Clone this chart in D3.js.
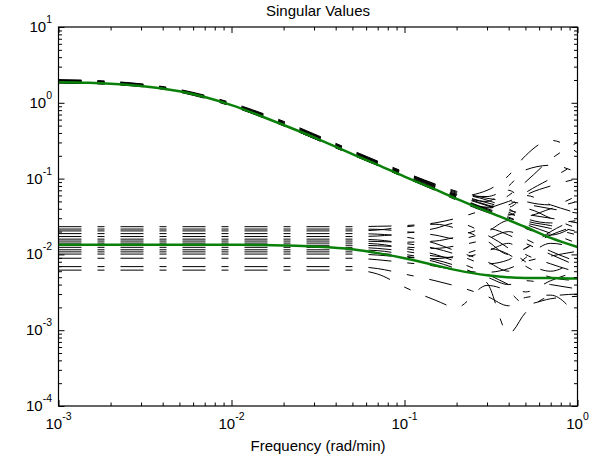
<!DOCTYPE html>
<html>
<head>
<meta charset="utf-8">
<script src="https://cdn.jsdelivr.net/npm/d3@7"></script>
<style>
  body { margin: 0; background: #fff; }
  svg { font-family: "Liberation Sans", Arial, Helvetica, sans-serif; }
</style>
</head>
<body>
<svg id="chart" width="606" height="458"></svg>
<script>
// nominal singular values (green)
const freqNom = [0.001, 0.0015, 0.002, 0.003, 0.005, 0.007, 0.01, 0.015, 0.02, 0.03,
                 0.05, 0.07, 0.1, 0.15, 0.2, 0.3, 0.5, 0.7, 1];
const nomUpper = [1.87, 1.84, 1.79, 1.67, 1.42, 1.19, 0.93, 0.66, 0.51, 0.35,
                  0.21, 0.152, 0.106, 0.072, 0.054, 0.037, 0.023, 0.0165, 0.0125];
const nomLower = [0.0134, 0.0134, 0.0134, 0.0134, 0.0134, 0.0134, 0.0134, 0.0133, 0.0131, 0.0127,
                  0.0117, 0.0104, 0.0089, 0.0072, 0.0062, 0.0053, 0.0049, 0.0049, 0.0048];

// sampled (uncertain) systems, black dashed
const freqSamp = [0.001, 0.002, 0.005, 0.01, 0.02, 0.05, 0.07, 0.1, 0.15, 0.2, 0.3, 0.4, 0.5, 0.7, 1];
const sampUpper = [
  [1.95, 1.85, 1.45, 0.95, 0.52, 0.215, 0.158, 0.115, 0.080, 0.062, 0.045, 0.038, 0.034, 0.030, 0.026],
  [1.82, 1.75, 1.38, 0.90, 0.50, 0.205, 0.150, 0.104, 0.072, 0.056, 0.042, 0.060, 0.090, 0.18, 0.30],
  [2.02, 1.92, 1.50, 1.00, 0.57, 0.235, 0.170, 0.122, 0.085, 0.068, 0.055, 0.050, 0.046, 0.040, 0.035],
  [1.90, 1.80, 1.44, 0.94, 0.51, 0.210, 0.152, 0.106, 0.073, 0.058, 0.070, 0.110, 0.200, 0.32, 0.22],
  [1.85, 1.77, 1.40, 0.92, 0.50, 0.208, 0.150, 0.105, 0.070, 0.052, 0.036, 0.030, 0.026, 0.022, 0.018],
  [1.98, 1.88, 1.47, 0.97, 0.55, 0.228, 0.165, 0.118, 0.082, 0.064, 0.048, 0.042, 0.060, 0.080, 0.100],
  [1.88, 1.80, 1.42, 0.93, 0.51, 0.212, 0.153, 0.108, 0.075, 0.060, 0.050, 0.070, 0.050, 0.045, 0.060],
  [1.93, 1.83, 1.44, 0.95, 0.53, 0.220, 0.160, 0.112, 0.078, 0.058, 0.040, 0.034, 0.032, 0.040, 0.050],
  [1.86, 1.78, 1.41, 0.92, 0.50, 0.207, 0.150, 0.105, 0.071, 0.054, 0.038, 0.031, 0.025, 0.019, 0.014],
  [1.96, 1.86, 1.46, 0.96, 0.54, 0.225, 0.163, 0.116, 0.080, 0.060, 0.044, 0.036, 0.028, 0.024, 0.020],
  [1.84, 1.76, 1.40, 0.91, 0.50, 0.206, 0.149, 0.104, 0.075, 0.062, 0.058, 0.080, 0.130, 0.15, 0.12],
  [1.92, 1.82, 1.43, 0.94, 0.52, 0.214, 0.156, 0.110, 0.076, 0.057, 0.041, 0.045, 0.065, 0.10, 0.16],
  [1.89, 1.81, 1.42, 0.93, 0.51, 0.211, 0.152, 0.107, 0.074, 0.055, 0.039, 0.033, 0.040, 0.030, 0.022],
  [2.00, 1.90, 1.48, 0.98, 0.56, 0.230, 0.168, 0.120, 0.084, 0.066, 0.052, 0.040, 0.030, 0.026, 0.028]
];
// lower singular values: flat level up to 0.05, then the tail from 0.07 to 1
const lowerLevels = [0.0232, 0.0216, 0.0204, 0.0188, 0.0172, 0.0159, 0.0150, 0.0141,
                     0.0132, 0.0124, 0.0115, 0.0108, 0.0101, 0.0089, 0.0069, 0.0062];
const lowerTails = [
  [0.0235, 0.024, 0.026, 0.030, 0.040, 0.050, 0.060, 0.045, 0.035],
  [0.0214, 0.020, 0.018, 0.016, 0.020, 0.028, 0.022, 0.018, 0.025],
  [0.021, 0.023, 0.025, 0.022, 0.015, 0.010, 0.012, 0.020, 0.030],
  [0.0185, 0.017, 0.014, 0.011, 0.008, 0.006, 0.009, 0.014, 0.012],
  [0.0175, 0.019, 0.022, 0.026, 0.018, 0.012, 0.008, 0.006, 0.009],
  [0.0155, 0.014, 0.012, 0.010, 0.0075, 0.0085, 0.012, 0.018, 0.024],
  [0.0148, 0.0145, 0.015, 0.017, 0.022, 0.018, 0.014, 0.010, 0.007],
  [0.0137, 0.012, 0.010, 0.008, 0.0055, 0.004, 0.0032, 0.0045, 0.006],
  [0.0130, 0.0125, 0.012, 0.013, 0.016, 0.020, 0.016, 0.011, 0.008],
  [0.0120, 0.011, 0.0095, 0.009, 0.011, 0.014, 0.010, 0.0075, 0.0058],
  [0.0112, 0.010, 0.0085, 0.007, 0.0042, 0.0009, 0.0017, 0.0028, 0.0030],
  [0.0104, 0.0095, 0.0080, 0.0065, 0.0050, 0.0040, 0.0045, 0.0040, 0.0035],
  [0.0098, 0.0092, 0.0088, 0.0095, 0.012, 0.010, 0.007, 0.005, 0.0045],
  [0.0085, 0.0078, 0.0070, 0.0062, 0.0058, 0.0065, 0.0080, 0.0095, 0.011],
  [0.0065, 0.0055, 0.0045, 0.0038, 0.0028, 0.0021, 0.0027, 0.0029, 0.0015],
  [0.0055, 0.0037, 0.0025, 0.0020, 0.0039, 0.0032, 0.0022, 0.0026, 0.0028]
];
const xTickExp = [-3, -2, -1, 0];
const yTickExp = [-4, -3, -2, -1, 0, 1];

const svg = d3.select('#chart');
const pLeft = 58.5, pRight = 577.5, pTop = 27, pBottom = 406;

const x = d3.scaleLog().domain([1e-3, 1]).range([pLeft, pRight]);
const y = d3.scaleLog().domain([1e-4, 10]).range([pBottom, pTop]);

svg.append('defs').append('clipPath').attr('id', 'clip')
  .append('rect').attr('x', pLeft).attr('y', pTop)
  .attr('width', pRight - pLeft).attr('height', pBottom - pTop);

const plot = svg.append('g').attr('clip-path', 'url(#clip)');
const line = d3.line().x(d => x(d[0])).y(d => y(d[1])).curve(d3.curveMonotoneX);

// black dashed sample curves
const sampLower = lowerLevels.map((lv, i) => [lv, lv, lv, lv, lv, lv].concat(lowerTails[i]));
const samples = sampUpper.concat(sampLower).map(vals => vals.map((v, i) => [freqSamp[i], v]));

plot.selectAll('.samp')
  .data(samples)
  .join('path')
  .attr('class', 'samp')
  .attr('d', line)
  .attr('fill', 'none')
  .attr('stroke', '#000')
  .attr('stroke-width', 1)
  .attr('stroke-dasharray', '23,16,7,16');

// nominal curves in green
plot.selectAll('.nom')
  .data([nomUpper, nomLower].map(vals => vals.map((v, i) => [freqNom[i], v])))
  .join('path')
  .attr('class', 'nom')
  .attr('d', line)
  .attr('fill', 'none')
  .attr('stroke', '#0a800a')
  .attr('stroke-width', 2.5);

// ticks: major + minor, inward on all four sides
const xMajor = xTickExp.map(e => Math.pow(10, e));
const yMajor = yTickExp.map(e => Math.pow(10, e));
const xMinor = x.ticks().filter(t => !xMajor.some(m => Math.abs(m - t) < 1e-12));
const yMinor = y.ticks().filter(t => !yMajor.some(m => Math.abs(m - t) < 1e-12));

function addAxis(gen, scale, vals, len, tr) {
  const g = svg.append('g').attr('transform', tr)
    .call(gen(scale).tickValues(vals).tickSize(-len).tickFormat(''));
  g.select('.domain').remove();
  g.selectAll('line').attr('stroke', '#000').attr('stroke-width', 1);
}
addAxis(d3.axisBottom, x, xMajor, 6, `translate(0,${pBottom})`);
addAxis(d3.axisBottom, x, xMinor, 3.5, `translate(0,${pBottom})`);
addAxis(d3.axisTop, x, xMajor, 6, `translate(0,${pTop})`);
addAxis(d3.axisTop, x, xMinor, 3.5, `translate(0,${pTop})`);
addAxis(d3.axisLeft, y, yMajor, 6, `translate(${pLeft},0)`);
addAxis(d3.axisLeft, y, yMinor, 3.5, `translate(${pLeft},0)`);
addAxis(d3.axisRight, y, yMajor, 6, `translate(${pRight},0)`);
addAxis(d3.axisRight, y, yMinor, 3.5, `translate(${pRight},0)`);

svg.append('rect')
  .attr('x', pLeft).attr('y', pTop)
  .attr('width', pRight - pLeft).attr('height', pBottom - pTop)
  .attr('fill', 'none').attr('stroke', '#000').attr('stroke-width', 1.2);

// tick labels 10^n
const xLab = svg.selectAll('.xlab').data(xTickExp).join('text')
  .attr('class', 'xlab')
  .attr('x', e => x(Math.pow(10, e)))
  .attr('y', 429)
  .attr('text-anchor', 'middle')
  .attr('font-size', 15);
xLab.append('tspan').text('10');
xLab.append('tspan').attr('font-size', 10.5).attr('dy', -9).text(e => e);

const yLab = svg.selectAll('.ylab').data(yTickExp).join('text')
  .attr('class', 'ylab')
  .attr('x', 52)
  .attr('y', e => y(Math.pow(10, e)) + 5)
  .attr('text-anchor', 'end')
  .attr('font-size', 15);
yLab.append('tspan').text('10');
yLab.append('tspan').attr('font-size', 10.5).attr('dy', -9).text(e => e);

svg.append('text')
  .attr('x', (pLeft + pRight) / 2).attr('y', 16)
  .attr('text-anchor', 'middle').attr('font-size', 15)
  .text('Singular Values');

svg.append('text')
  .attr('x', (pLeft + pRight) / 2).attr('y', 451)
  .attr('text-anchor', 'middle').attr('font-size', 15)
  .text('Frequency (rad/min)');
</script>
</body>
</html>
